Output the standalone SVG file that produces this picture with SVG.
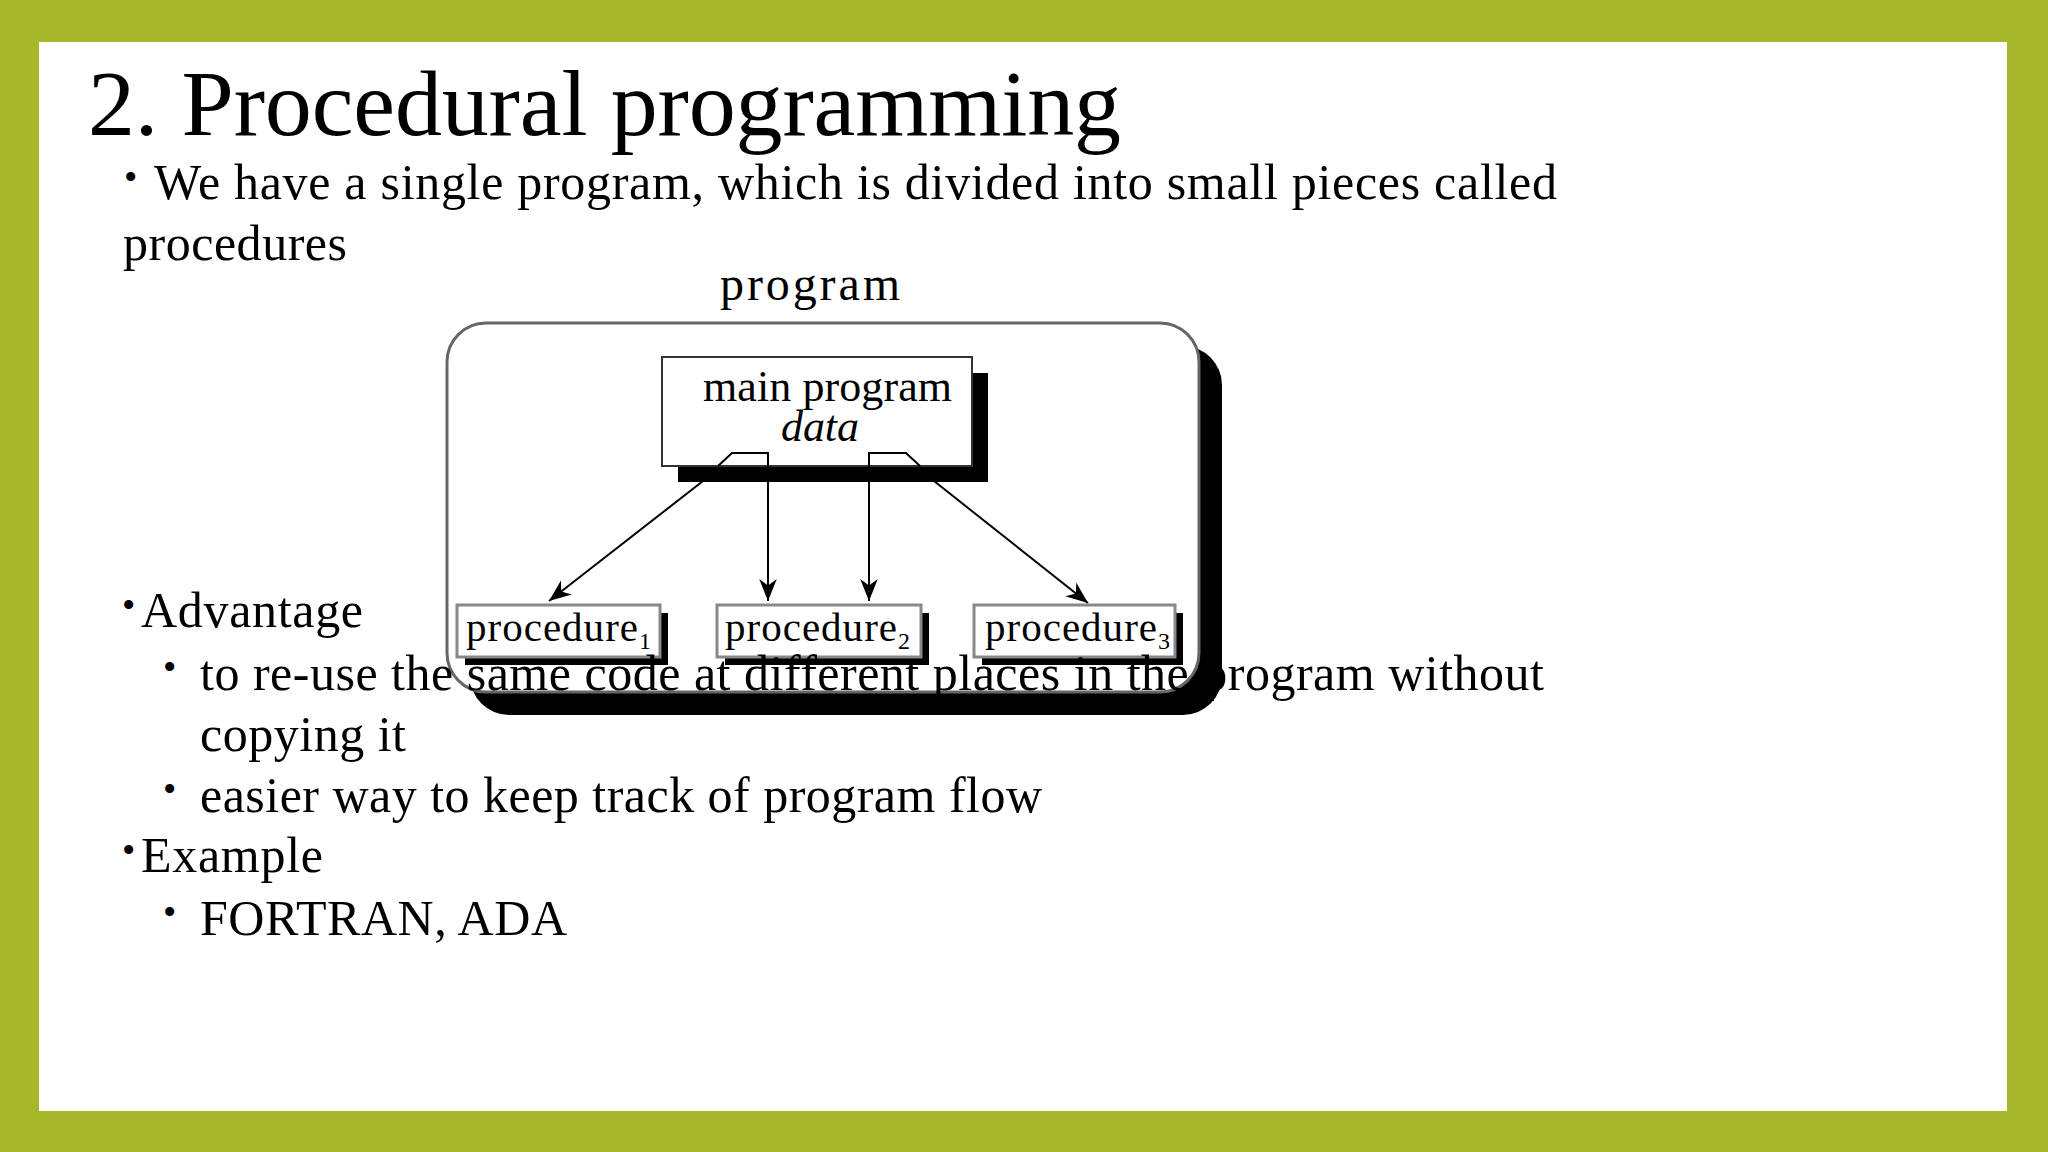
<svg xmlns="http://www.w3.org/2000/svg" width="2048" height="1152" viewBox="0 0 2048 1152">
<defs>
<style>
.t{font-family:"Liberation Serif","Times New Roman",serif;fill:#000}
.b{font-size:50px}
.d{font-size:44px}
.p{font-size:41px}
.bl{font-size:38px}
.proc{fill:#fff;stroke:#888;stroke-width:3}
.ln{stroke:#000;stroke-width:2;fill:none}
</style>
<marker id="ah" viewBox="0 0 10 10" refX="10" refY="5" markerWidth="22" markerHeight="22" markerUnits="userSpaceOnUse" orient="auto"><path d="M0,1 L10,5 L0,9 L3,5 z" fill="#000"/></marker>
</defs>
<rect width="2048" height="1152" fill="#A6B729"/>
<rect x="39" y="42" width="1968" height="1069" fill="#fff"/>
<text class="t" x="88" y="135" font-size="94" textLength="1033">2. Procedural programming</text>
<g id="intro">
<text class="t bl" x="124" y="190">•</text>
<text class="t b" x="154" y="199" textLength="1403">We have a single program, which is divided into small pieces  called</text>
<text class="t b" x="123" y="260" textLength="224">procedures</text>
</g>
<g id="outer">
<text class="t" x="720" y="300" font-size="48" textLength="180">program</text>
<rect x="470" y="346" width="752" height="369" rx="39" fill="#000"/>
<rect x="447" y="323" width="752" height="369" rx="39" fill="#fff" stroke="#666" stroke-width="3"/>
</g>
<g id="main">
<rect x="678" y="373" width="310" height="109" fill="#000"/>
<rect x="662" y="357" width="310" height="109" fill="#fff" stroke="#333" stroke-width="2"/>
<path class="ln" d="M718,466 L732,453 L768,453 L768,466 M869,466 L869,453 L906,453 L920,466"/>
<text class="t d" x="703" y="401" textLength="249">main program</text>
<text class="t d" x="781" y="441" font-style="italic" textLength="78">data</text>
</g>
<g id="connectors">
<line class="ln" x1="703" y1="481" x2="549" y2="601" marker-end="url(#ah)"/>
<line class="ln" x1="768" y1="466" x2="768" y2="601" marker-end="url(#ah)"/>
<line class="ln" x1="869" y1="466" x2="869" y2="601" marker-end="url(#ah)"/>
<line class="ln" x1="934" y1="481" x2="1088" y2="603" marker-end="url(#ah)"/>
</g>
<g id="proc1"><rect x="465" y="613" width="203" height="52" fill="#000"/><rect class="proc" x="457" y="605" width="203" height="52"/><text class="t p" x="466" y="641"><tspan textLength="172">procedure</tspan><tspan font-size="24" dy="8">1</tspan></text></g>
<g id="proc2"><rect x="725" y="613" width="204" height="52" fill="#000"/><rect class="proc" x="717" y="605" width="204" height="52"/><text class="t p" x="725" y="641"><tspan textLength="172">procedure</tspan><tspan font-size="24" dy="8">2</tspan></text></g>
<g id="proc3"><rect x="982" y="613" width="201" height="52" fill="#000"/><rect class="proc" x="974" y="605" width="201" height="52"/><text class="t p" x="985" y="641"><tspan textLength="172">procedure</tspan><tspan font-size="24" dy="8">3</tspan></text></g>
<g id="bullets">
<text class="t bl" x="122" y="618">•</text>
<text class="t b" x="141" y="627" textLength="222">Advantage</text>
<text class="t bl" x="163" y="680">•</text>
<text class="t b" x="200" y="690" textLength="1344">to re-use the same code at different places in the program without</text>
<text class="t b" x="200" y="751" textLength="206">copying it</text>
<text class="t bl" x="163" y="802">•</text>
<text class="t b" x="200" y="812" textLength="842">easier way to keep track of program flow</text>
<text class="t bl" x="122" y="863">•</text>
<text class="t b" x="141" y="872" textLength="182">Example</text>
<text class="t bl" x="163" y="925">•</text>
<text class="t b" x="200" y="935" textLength="367">FORTRAN, ADA</text>
</g>
</svg>
